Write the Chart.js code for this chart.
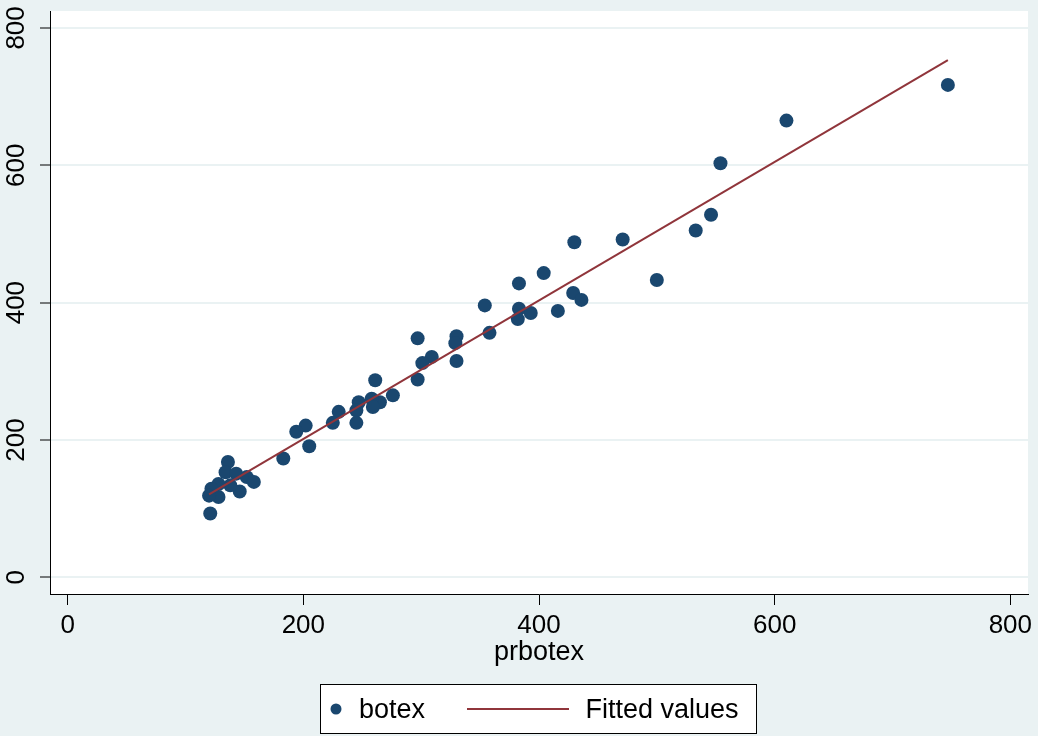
<!DOCTYPE html>
<html>
<head>
<meta charset="utf-8">
<script src="https://cdn.jsdelivr.net/npm/chart.js@4"></script>
<style>
  html, body { margin: 0; padding: 0; background: #eaf2f3; }
  canvas { display: block; }
</style>
</head>
<body>
<canvas id="botexChart" width="1038" height="736"></canvas>
<script>
// values
const botexX = [747, 610, 554, 546, 533, 471, 430, 500, 404, 383,
                354, 429, 436, 383, 393, 416, 382, 358, 330, 329,
                297, 309, 301, 330, 297, 261, 276, 265, 258, 259,
                247, 245, 245, 230, 225, 202, 194, 205, 183, 136,
                134, 143, 152, 158, 146, 138, 128, 122, 128, 120, 121];
const botexY = [717, 665, 603, 528, 505, 492, 488, 433, 443, 428,
                396, 414, 404, 391, 385, 388, 376, 356, 351, 341,
                348, 321, 312, 315, 288, 287, 265, 255, 260, 248,
                255, 243, 225, 241, 225, 221, 212, 191, 173, 168,
                153, 151, 146, 139, 125, 134, 136, 129, 117, 119, 93];
const fitX = [120, 747];
const fitY = [121, 753];
const xTicks = [0, 200, 400, 600, 800];
const yTicks = [0, 200, 400, 600, 800];
const xTitle = 'prbotex';
const legendLabels = ['botex', 'Fitted values'];

const NAVY = '#1a476f';
const MAROON = '#90353b';
const BG = '#eaf2f3';
const FONT = '"Liberation Sans", Arial, sans-serif';

const backdrop = {
  id: 'backdrop',
  beforeDraw(chart) {
    const { ctx, chartArea: a } = chart;
    ctx.save();
    ctx.fillStyle = BG;
    ctx.fillRect(0, 0, chart.width, chart.height);
    ctx.fillStyle = '#ffffff';
    ctx.fillRect(a.left, a.top, a.right - a.left, a.bottom - a.top);
    ctx.restore();
  }
};

// Stata style: y labels turned to read bottom-up
const yLabels = {
  id: 'yLabels',
  afterDraw(chart) {
    const { ctx } = chart;
    const y = chart.scales.y;
    ctx.save();
    ctx.fillStyle = '#000';
    ctx.font = '26px ' + FONT;
    ctx.textAlign = 'center';
    ctx.textBaseline = 'middle';
    yTicks.forEach(v => {
      ctx.save();
      ctx.translate(16.5, y.getPixelForValue(v));
      ctx.rotate(-Math.PI / 2);
      ctx.fillText(String(v), 0, 0);
      ctx.restore();
    });
    ctx.restore();
  }
};

const legendBox = {
  id: 'legendBox',
  afterDraw(chart) {
    const { ctx } = chart;
    ctx.save();
    ctx.fillStyle = '#ffffff';
    ctx.fillRect(320.5, 684.5, 436, 49);
    ctx.strokeStyle = '#000';
    ctx.lineWidth = 1;
    ctx.strokeRect(320.5, 684.5, 436, 49);

    ctx.fillStyle = NAVY;
    ctx.beginPath();
    ctx.arc(336, 709, 5.5, 0, Math.PI * 2);
    ctx.fill();

    ctx.strokeStyle = MAROON;
    ctx.lineWidth = 2;
    ctx.beginPath();
    ctx.moveTo(467, 709);
    ctx.lineTo(569, 709);
    ctx.stroke();

    ctx.fillStyle = '#000';
    ctx.font = '27px ' + FONT;
    ctx.textBaseline = 'alphabetic';
    ctx.fillText(legendLabels[0], 359, 718);
    ctx.fillText(legendLabels[1], 585.5, 718);
    ctx.restore();
  }
};

const ctx = document.getElementById('botexChart').getContext('2d');

const chart = new Chart(ctx, {
  type: 'scatter',
  data: {
    datasets: [{
      label: legendLabels[0],
      data: botexX.map((x, i) => ({ x: x, y: botexY[i] })),
      backgroundColor: NAVY,
      borderColor: NAVY,
      borderWidth: 0,
      pointRadius: 7,
      order: 2
    }, {
      type: 'line',
      label: legendLabels[1],
      data: fitX.map((x, i) => ({ x: x, y: fitY[i] })),
      borderColor: MAROON,
      borderWidth: 2,
      pointRadius: 0,
      fill: false,
      showLine: true,
      order: 1
    }]
  },
  options: {
    responsive: false,
    animation: false,
    events: [],
    layout: { padding: { left: 0, top: 11, right: 10, bottom: 66 } },
    plugins: {
      legend: { display: false },
      tooltip: { enabled: false }
    },
    scales: {
      x: {
        type: 'linear',
        min: -15,
        max: 815,
        afterBuildTicks: s => { s.ticks = xTicks.map(v => ({ value: v })); },
        afterFit: s => { s.height = 76; s.paddingLeft = 0; s.paddingRight = 0; },
        grid: { drawOnChartArea: false, tickLength: 11, tickColor: '#000', tickWidth: 1 },
        border: { color: '#000', width: 1 },
        ticks: { color: '#000', font: { family: FONT, size: 26 }, padding: 5, maxRotation: 0 },
        title: {
          display: true,
          text: xTitle,
          color: '#000',
          font: { family: FONT, size: 27 },
          padding: { top: 0, bottom: 1 }
        }
      },
      y: {
        type: 'linear',
        min: -24.2,
        max: 824.6,
        afterBuildTicks: s => { s.ticks = yTicks.map(v => ({ value: v })); },
        afterFit: s => { s.width = 50; },
        grid: { color: BG, lineWidth: 2, tickLength: 10, tickColor: '#000', tickWidth: 1 },
        border: { color: '#000', width: 1 },
        ticks: { display: false }
      }
    }
  },
  plugins: [backdrop, yLabels, legendBox]
});
</script>
</body>
</html>
